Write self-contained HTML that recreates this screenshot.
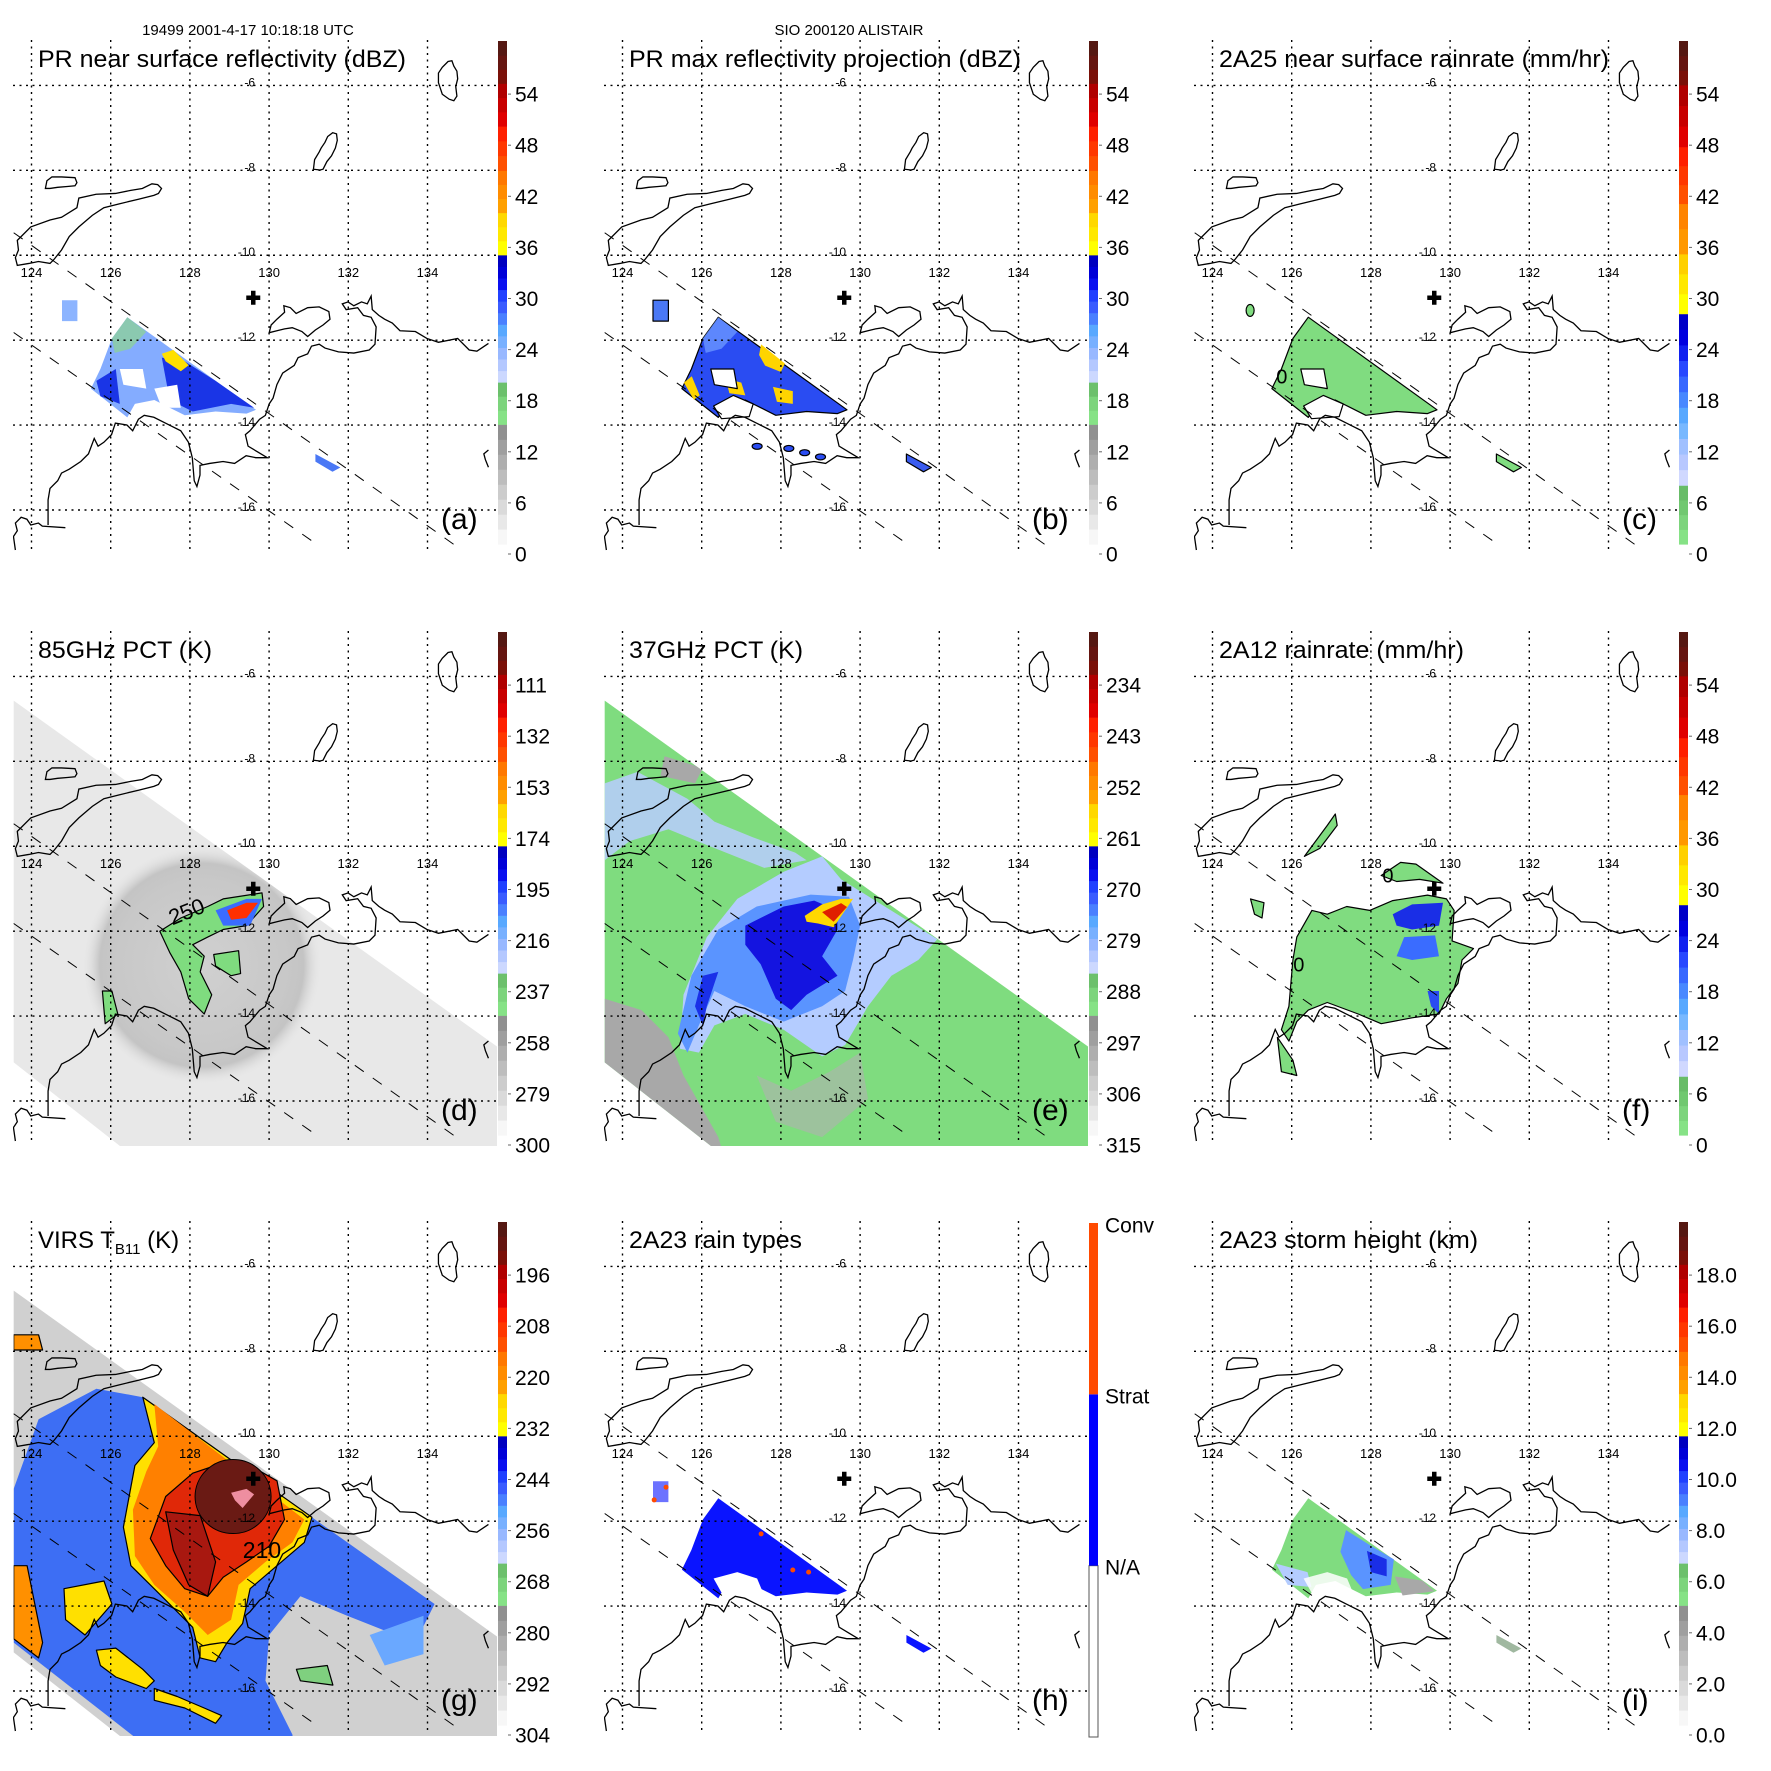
<!DOCTYPE html>
<html><head><meta charset="utf-8"><style>
html,body{margin:0;padding:0;background:#fff}
svg{display:block}
text{font-family:"Liberation Sans",Arial,sans-serif}
</style></head><body>
<svg id="fig" xmlns="http://www.w3.org/2000/svg" width="1771" height="1771" viewBox="0 0 1771 1771">
<rect x="0" y="0" width="1771" height="1771" fill="#fff"/>
<defs>
<g id="coast" fill="none" stroke="#000" stroke-width="1.3" vector-effect="non-scaling-stroke">
<path vector-effect="non-scaling-stroke" d="M1140,190 L1150,175 1165,160 1175,158 1180,172 1188,185 1190,205 1185,225 1188,250 1180,262 1168,258 1150,245 1145,230 1140,215 Z"/>
<path vector-effect="non-scaling-stroke" d="M815,440 L818,415 830,395 835,385 845,370 852,355 865,345 875,348 877,365 872,385 862,405 850,420 840,440 832,442 Z"/>
<path vector-effect="non-scaling-stroke" d="M118,490 L122,470 135,460 160,460 195,462 200,475 195,483 175,485 150,487 130,490 Z"/>
<path vector-effect="non-scaling-stroke" d="M45,625 L80,590 130,572 160,565 200,540 205,515 250,505 300,503 340,495 370,490 395,478 410,480 420,490 412,503 400,508 360,518 310,530 270,540 240,560 205,590 180,615 160,650 140,675 130,685 100,680 75,685 45,690 40,670 48,650 Z"/>
<path vector-effect="non-scaling-stroke" d="M40,1430 L35,1395 45,1380 40,1360 55,1345 70,1350 80,1365 100,1360 110,1368 170,1372"/>
<path vector-effect="non-scaling-stroke" d="M125,1365 L125,1300 130,1270 150,1250 160,1230 180,1220 210,1200 230,1180 245,1140 255,1160 270,1150 290,1130 300,1100 330,1105 345,1120 360,1090 375,1080 400,1085 430,1100 470,1120 490,1150 500,1190 505,1250 512,1265 520,1235 520,1210 545,1205 580,1200 610,1205 640,1185 665,1190 695,1190 670,1175 645,1160 638,1130 650,1120 675,1090 690,1080 700,1050 710,1035 720,1000 735,970 765,950 775,930 800,920 810,900 830,895 845,905 880,915 920,918 960,910 975,895 978,850 965,825 945,820 930,800 900,805 890,790 905,785 920,795 940,785 955,790 965,770 968,805 985,820 1000,830 1020,840 1040,860 1080,862 1110,880 1140,890 1190,880 1220,910 1240,913 1270,893"/>
<path vector-effect="non-scaling-stroke" d="M700,865 L705,845 720,830 740,812 738,795 755,800 770,815 800,800 830,798 855,810 858,830 840,845 820,858 800,875 785,862 760,852 740,855 720,860 Z"/>
<path vector-effect="non-scaling-stroke" d="M1270,1170 L1258,1180 1262,1195 1270,1215"/>
</g>
<radialGradient id="ringD" cx="0.5" cy="0.5" r="0.5">
<stop offset="0" stop-color="#d0d0d0"/><stop offset="0.7" stop-color="#c8c8c8"/><stop offset="0.85" stop-color="#c4c4c4"/><stop offset="1" stop-color="#e8e8e8" stop-opacity="0"/>
</radialGradient>
</defs>
<g id="root"></g>
</svg>
<script>
// ---------- data arrays ----------
const lonTicks = [124,126,128,130,132,134];
const latTicks = [-6,-8,-10,-12,-14,-16];
const stormCenter = [129.6,-11.0];
const swathUpper = [[123.55,-9.47],[134.86,-16.94]];
const swathLower = [[123.55,-11.82],[131.27,-16.85]];
const headerLeft = "19499 2001-4-17 10:18:18 UTC";
const headerRight = "SIO 200120 ALISTAIR";
const titles = ["PR near surface reflectivity (dBZ)","PR max reflectivity projection (dBZ)","2A25 near surface rainrate (mm/hr)","85GHz PCT (K)","37GHz PCT (K)","2A12 rainrate (mm/hr)","VIRS T","2A23 rain types","2A23 storm height (km)"];
const titleWidths = [368,392,390,174,174,245,0,173,259];
const letters = ["(a)","(b)","(c)","(d)","(e)","(f)","(g)","(h)","(i)"];
const ticksA = ["0","6","12","18","24","30","36","42","48","54"];
const ticksD = ["300","279","258","237","216","195","174","153","132","111"];
const ticksE = ["315","306","297","288","279","270","261","252","243","234"];
const ticksG = ["304","292","280","268","256","244","232","220","208","196"];
const ticksI = ["0.0","2.0","4.0","6.0","8.0","10.0","12.0","14.0","16.0","18.0"];
const ticksH = ["N/A","Strat","Conv"];

const prSwath = [[126.42,-11.46],[129.67,-13.64],[129.43,-13.73],[128.65,-13.68],[127.87,-13.77],[127.49,-13.59],[127.1,-13.41],[126.61,-13.5],[126.42,-13.82],[125.5,-13.14],[125.74,-12.68],[126.03,-11.96]];
const tmiSwath = [[123.55,-6.57],[135.76,-14.72],[135.76,-17.3],[126.56,-17.3],[123.55,-15.09]];
const aDark1 = [[127.29,-12.41],[127.87,-12.5],[128.65,-12.96],[129.62,-13.59],[129.04,-13.5],[128.07,-13.68],[127.49,-13.41]];
const aDark2 = [[125.64,-12.96],[126.13,-12.68],[126.23,-13.5],[125.74,-13.32]];
const aYellow = [[127.29,-12.32],[127.58,-12.23],[127.97,-12.59],[127.77,-12.73],[127.39,-12.5]];
const aGreen = [[126.03,-11.96],[126.42,-11.46],[126.9,-11.8],[126.5,-12.2],[126.1,-12.3]];
const aHole1 = [[126.23,-12.68],[126.81,-12.68],[126.9,-13.14],[126.32,-13.05]];
const aHole2 = [[127.1,-13.14],[127.68,-13.05],[127.77,-13.59],[127.29,-13.59]];
const bitsNW = [[124.77,-11.06],[125.16,-11.06],[125.16,-11.55],[124.77,-11.55]];
const bitsSE = [[131.17,-14.68],[131.8,-15.0],[131.6,-15.1],[131.17,-14.86]];
const bY1 = [[127.5,-12.1],[128.1,-12.55],[128.0,-12.75],[127.6,-12.6],[127.45,-12.35]];
const bY2 = [[125.55,-13.0],[125.75,-12.85],[125.95,-13.3],[125.8,-13.4]];
const bY3 = [[126.6,-12.9],[127.0,-13.0],[127.1,-13.3],[126.7,-13.25]];
const bY4 = [[127.8,-13.1],[128.3,-13.2],[128.3,-13.5],[127.9,-13.45]];
const bHole = [[126.3,-13.55],[126.8,-13.3],[127.3,-13.5],[127.2,-13.8],[126.5,-13.85]];
const bBlobs = [[127.4,-14.5],[128.2,-14.55],[128.6,-14.65],[129.0,-14.75]];
const dGreen1 = [[127.24,-12.0],[127.77,-11.69],[128.45,-11.42],[128.84,-11.24],[129.82,-11.1],[129.86,-11.42],[129.43,-11.87],[128.84,-11.96],[128.45,-12.14],[128.07,-12.32],[128.36,-12.59],[128.26,-12.96],[128.55,-13.5],[128.36,-13.95],[127.97,-13.59],[127.77,-12.96],[127.49,-12.5]];
const dGreen2 = [[128.6,-12.55],[129.23,-12.46],[129.28,-13.0],[129.04,-13.05],[128.65,-12.82]];
const dGreen3 = [[125.79,-13.41],[126.03,-13.41],[126.18,-13.95],[125.86,-14.18]];
const dBlue = [[128.65,-11.51],[129.43,-11.24],[129.82,-11.24],[129.52,-11.87],[128.84,-11.87]];
const dRed = [[128.94,-11.51],[129.43,-11.33],[129.72,-11.33],[129.43,-11.69],[129.04,-11.73]];
const dRingCenter = [128.3,-12.8];
const eLight = [[125.45,-14.77],[125.54,-13.5],[126.13,-12.14],[126.9,-11.24],[128.07,-10.6],[129.04,-10.24],[129.52,-10.78],[131.95,-12.19],[131.47,-12.68],[130.79,-13.05],[130.2,-13.77],[129.62,-14.68],[129.04,-14.95],[128.07,-14.32],[127.1,-13.95],[126.32,-14.22],[125.93,-14.86]];
const eLight2 = [[123.55,-8.52],[124.38,-8.25],[125.64,-8.88],[126.32,-9.42],[127.29,-9.79],[128.36,-10.15],[128.65,-10.33],[127.58,-10.51],[126.13,-9.97],[125.16,-9.6],[124.18,-9.88],[123.55,-10.33]];
const eMid = [[126.42,-11.96],[127.39,-11.42],[128.75,-11.14],[129.72,-11.19],[130.0,-11.87],[129.82,-12.68],[129.62,-13.41],[129.04,-13.77],[128.07,-14.13],[127.1,-13.77],[126.32,-13.41],[125.93,-14.22],[125.64,-14.86],[125.4,-14.41],[125.74,-13.05]];
const eDark = [[127.1,-11.87],[128.07,-11.42],[128.84,-11.28],[129.43,-11.51],[129.43,-11.96],[129.04,-12.59],[129.43,-13.05],[128.65,-13.5],[128.26,-13.86],[127.87,-13.59],[127.49,-12.78],[127.1,-12.32]];
const eDark2 = [[125.83,-13.77],[126.03,-13.05],[126.42,-12.96],[126.13,-13.77],[126.03,-14.22]];
const eYellow = [[128.6,-11.64],[129.04,-11.37],[129.52,-11.24],[129.82,-11.24],[129.62,-11.51],[129.33,-11.91],[128.94,-11.82],[128.65,-11.78]];
const eRed = [[129.04,-11.55],[129.52,-11.34],[129.67,-11.43],[129.33,-11.78]];
const eGrey1 = [[123.55,-13.59],[124.48,-13.86],[125.16,-14.5],[125.54,-15.4],[126.42,-16.85],[126.56,-17.3],[123.55,-17.3]];
const eGrey2 = [[127.39,-15.4],[128.26,-15.76],[129.23,-15.31],[130.0,-14.86],[130.2,-15.95],[129.04,-16.85],[127.87,-16.49]];
const eGrey3 = [[125.06,-7.88],[126.03,-8.16],[125.83,-8.52],[124.96,-8.34]];
const fMain = [[126.13,-12.14],[126.51,-11.51],[126.9,-11.6],[127.39,-11.42],[127.97,-11.51],[128.55,-11.28],[129.43,-11.15],[129.91,-11.24],[130.1,-11.51],[130.05,-12.23],[130.59,-12.41],[130.3,-12.68],[130.2,-13.23],[129.91,-13.59],[129.72,-13.95],[129.04,-14.04],[128.26,-14.18],[127.68,-13.95],[126.9,-13.68],[126.42,-13.86],[126.13,-14.13],[125.93,-14.59],[125.74,-14.32],[125.93,-13.77],[126.03,-12.68]];
const fNorth = [[128.26,-10.69],[128.75,-10.38],[129.14,-10.42],[129.82,-10.87],[129.23,-10.78],[128.65,-10.83]];
const fTimor = [[126.32,-10.24],[126.9,-9.51],[127.1,-9.24],[127.15,-9.51],[126.71,-10.05]];
const fSW = [[125.64,-14.5],[126.03,-15.04],[126.13,-15.4],[125.74,-15.31]];
const fW = [[124.96,-11.24],[125.3,-11.33],[125.25,-11.69],[125.06,-11.6]];
const fBlue1 = [[128.55,-11.6],[129.04,-11.37],[129.82,-11.33],[129.72,-11.87],[129.04,-11.96],[128.65,-11.87]];
const fBlue2 = [[128.84,-12.14],[129.62,-12.1],[129.72,-12.59],[129.04,-12.68],[128.65,-12.59]];
const fBlue3 = [[129.43,-13.41],[129.72,-13.41],[129.72,-13.95],[129.52,-13.77]];
const gBlue = [[123.55,-11.24],[124.18,-9.6],[125.64,-8.88],[126.81,-9.08],[131.08,-11.91],[134.18,-13.95],[133.69,-14.86],[131.95,-14.22],[130.79,-13.77],[130.0,-14.68],[129.91,-15.76],[130.59,-17.03],[130.59,-17.3],[126.9,-17.3],[123.55,-14.86]];
const gLightBlue = [[132.54,-14.68],[133.9,-14.23],[133.9,-15.13],[132.92,-15.4]];
const gYellow = [[126.81,-9.08],[131.08,-11.91],[130.89,-12.5],[130.2,-13.05],[129.52,-13.59],[129.33,-14.41],[128.94,-14.86],[128.65,-15.31],[128.26,-15.22],[128.07,-14.5],[127.29,-13.77],[126.51,-13.05],[126.32,-12.14],[126.61,-10.69],[127.1,-10.15]];
const gOrange = [[127.1,-9.24],[130.89,-11.96],[130.59,-12.5],[129.91,-12.96],[129.23,-13.5],[129.04,-14.32],[128.45,-14.68],[127.87,-14.14],[127.1,-13.5],[126.61,-12.82],[126.56,-11.73],[126.9,-10.83],[127.2,-10.24]];
const gRed = [[127.39,-11.42],[128.07,-10.87],[128.65,-10.69],[129.52,-10.69],[130.2,-11.05],[130.39,-11.96],[130.0,-12.59],[129.43,-12.96],[128.84,-13.32],[128.45,-13.77],[127.87,-13.59],[127.39,-13.05],[127.0,-12.41]];
const gDarkRed = [[127.39,-11.78],[128.26,-11.87],[128.65,-12.96],[128.45,-13.77],[127.97,-13.5],[127.58,-12.68]];
const gCore = [129.09,-11.42];
const gPink = [[129.04,-11.33],[129.43,-11.24],[129.62,-11.37],[129.33,-11.69],[129.14,-11.51]];
const gY2 = [[124.82,-13.59],[125.83,-13.41],[126.03,-13.95],[125.35,-14.68],[124.86,-14.32]];
const gY3 = [[125.64,-15.04],[126.13,-14.99],[126.81,-15.49],[127.1,-15.76],[126.9,-15.94],[126.13,-15.67],[125.74,-15.4]];
const gY4 = [[127.1,-15.94],[127.68,-16.13],[128.36,-16.4],[128.8,-16.58],[128.65,-16.76],[127.87,-16.4],[127.1,-16.22]];
const gOr2 = [[123.55,-13.05],[123.89,-13.05],[124.28,-14.86],[124.18,-15.22],[123.55,-14.77]];
const gOr3 = [[123.55,-7.61],[124.18,-7.61],[124.28,-7.97],[123.55,-7.97]];
const gGreen = [[130.69,-15.49],[131.47,-15.4],[131.61,-15.86],[130.79,-15.76]];
const hHole = [[126.3,-13.35],[126.9,-13.2],[127.4,-13.35],[127.6,-13.8],[126.6,-13.85]];
const hConv = [[128.7,-13.2],[127.5,-12.3],[128.3,-13.15],[125.1,-11.2],[124.8,-11.5]];
const iGrey = [[128.6,-13.3],[129.3,-13.4],[129.6,-13.65],[128.8,-13.75]];
const iLight = [[125.6,-13.0],[126.4,-13.2],[126.5,-13.55],[125.9,-13.5]];
const iBlue = [[127.37,-12.21],[128.0,-12.58],[128.58,-12.9],[128.5,-13.5],[127.8,-13.6],[127.5,-13.27],[127.23,-12.72]];
const iDark = [[127.9,-12.7],[128.4,-12.9],[128.4,-13.3],[128.0,-13.2]];

const NS = "http://www.w3.org/2000/svg";
const root = document.getElementById('root');
function mk(tag, attrs, parent){const e=document.createElementNS(NS,tag);for(const k in attrs)e.setAttribute(k,attrs[k]);(parent||root).appendChild(e);return e;}
const colO=[0,591,1181], rowO=[0,591,1181];
const panels=[];
for(let i=0;i<9;i++) panels.push({ox:colO[i%3], oy:rowO[Math.floor(i/3)], i:i});
function X(p,lon){return p.ox+31.5+(lon-124)*39.6;}
function Y(p,lat){return p.oy+85.4+(-6-lat)*42.46;}
function pts(p,arr){return arr.map(v=>X(p,v[0]).toFixed(1)+','+Y(p,v[1]).toFixed(1)).join(' ');}
function poly(p,g,arr,fill,stroke,name,op){
  const e=mk('polygon',{points:pts(p,arr),fill:fill,stroke:stroke||'none','stroke-width':1.2,'stroke-linejoin':'round','fill-opacity':op||1},g);
  
  
  return e;
}
function blob(p,g,c,rx,ry,fill,stroke,name){
  const e=mk('ellipse',{cx:X(p,c[0]),cy:Y(p,c[1]),rx:rx,ry:ry,fill:fill,stroke:stroke||'none','stroke-width':1.2},g);
  
  
  return e;
}
const STD=[[0,0.238,['#f7f7f7','#e8e8e8','#dadada','#cccccc','#bdbdbd','#aeaeae','#9f9f9f','#909090']],[0.238,0.322,['#86e286','#7cd47c','#6cc06c']],[0.322,0.575,['#ccd8ff','#b4c8ff','#98b8ff','#78b0ff','#58a8ff','#4a80ff','#3a5cff','#2040ff','#0a10f0','#0000d8','#0000c0']],[0.575,0.659,['#ffff00','#ffe800','#ffd800']],[0.659,0.743,['#ffa000','#ff8c00','#ff7800']],[0.743,0.831,['#ff5000','#ff3800','#ff2000']],[0.831,0.916,['#e00000','#c80000','#b00000']],[0.916,1,['#7a1008','#651510','#551812']]];
const RAIN=[[0,0.117,['#86e286','#7cd47c','#70c870','#68bc68']],[0.117,0.458,['#d0d8ff','#b8c8ff','#a0c0ff','#78b8ff','#58a8ff','#4888ff','#3868ff','#2848ff','#1020f0','#0000e0','#0000c8']],[0.458,0.577,['#ffff00','#ffe800','#ffd000']],[0.577,0.677,['#ff9800','#ff8400']],[0.677,0.79,['#ff5000','#ff3800','#ff2000']],[0.79,0.913,['#e00000','#c80000','#b00000']],[0.913,1,['#7a1008','#651510','#551812']]];

function colorbar(p,g,pal,labels){
  const x=p.ox+498,w=9,top=p.oy+41,bot=p.oy+544,H=bot-top;
  pal.forEach(s=>{const n=s[2].length;for(let k=0;k<n;k++){
    const f0=s[0]+(s[1]-s[0])*k/n,f1=s[0]+(s[1]-s[0])*(k+1)/n;
    const r=mk('rect',{x:x,y:(bot-f1*H).toFixed(2),width:w,height:((f1-f0)*H+0.6).toFixed(2),fill:s[2][k]},g);
    
    
  }});
  labels.forEach((t,k)=>{
    const cy=p.oy+554-k*51.1;
    const tk=mk('line',{x1:x+w+1,x2:x+w+4,y1:cy,y2:cy,stroke:'#666','stroke-width':1},g);
    
    
    const tx=mk('text',{x:p.ox+515,y:cy+7.5,'font-size':21,fill:'#000'},g);
    tx.textContent=t;
    
    
  });
}
function colorbarH(p,g){
  const x=p.ox+498,w=9,top=p.oy+42,bot=p.oy+556,H=bot-top;
  const segs=[[0,1/3,'#ffffff'],[1/3,2/3,'#0000ff'],[2/3,1,'#ff4a00']];
  segs.forEach(s=>{const r=mk('rect',{x:x,y:bot-s[1]*H,width:w,height:(s[1]-s[0])*H,fill:s[2],stroke:s[2]=='#ffffff'?'#555':'none','stroke-width':1},g);
    
    });
  const ys=[386,215,44];
  ticksH.forEach((t,k)=>{const tx=mk('text',{x:p.ox+514,y:p.oy+ys[k]+7.5,'font-size':21,fill:'#000'},g);
    tx.textContent=t;
    
    });
}

let hl=mk('text',{x:248,y:35,'font-size':15,'text-anchor':'middle'});
hl.textContent=headerLeft;


let hr=mk('text',{x:849,y:35,'font-size':15,'text-anchor':'middle'});
hr.textContent=headerRight;



const panelNames=['panel-a-pr-reflectivity','panel-b-pr-max-reflectivity','panel-c-2a25-rainrate','panel-d-85ghz-pct','panel-e-37ghz-pct','panel-f-2a12-rainrate','panel-g-virs-tb11','panel-h-2a23-rain-types','panel-i-2a23-storm-height'];

panels.forEach(p=>{
  const g=mk('g',{});
  
  
  const cp=mk('clipPath',{id:'clip'+p.i},g);
  mk('rect',{x:p.ox+13,y:p.oy+40,width:484,height:515},cp);
  const cs=mk('clipPath',{id:'sw'+p.i},g);
  mk('polygon',{points:pts(p,tmiSwath)},cs);
  const data=mk('g',{'clip-path':'url(#clip'+p.i+')'},g);
  
  
  const i=p.i;
  if(i===0){
    poly(p,data,prSwath,'#84acff',null,'pr-swath-echo');
    poly(p,data,aGreen,'#8ed68e',null,'weak-echo',0.7);
    poly(p,data,aDark1,'#1a35e6',null,'moderate-echo');
    poly(p,data,aDark2,'#1a35e6',null,'moderate-echo');
    poly(p,data,aYellow,'#ffe000',null,'strong-echo');
    poly(p,data,aHole1,'#ffffff',null,'no-echo');
    poly(p,data,aHole2,'#ffffff',null,'no-echo');
    poly(p,data,bitsNW,'#8cb4ff',null,'echo-patch');
    poly(p,data,bitsSE,'#4a78f5',null,'echo-patch');
  } else if(i===1){
    poly(p,data,prSwath,'#2a4cf2','#000','pr-swath-echo');
    poly(p,data,aGreen,'#6a96ff',null,'echo-patch',0.8);
    [bY1,bY2,bY3,bY4].forEach(a=>poly(p,data,a,'#ffd400',null,'strong-echo'));
    poly(p,data,bHole,'#ffffff','#000','no-echo');
    poly(p,data,aHole1,'#ffffff','#000','no-echo');
    poly(p,data,bitsNW,'#4a78f5','#000','echo-patch');
    poly(p,data,bitsSE,'#3a5cf0','#000','echo-patch');
    bBlobs.forEach(c=>blob(p,data,c,5,3,'#2a4cf2','#000','echo-patch'));
  } else if(i===2){
    poly(p,data,prSwath,'#80dc80','#000','pr-swath-rain');
    poly(p,data,bHole,'#ffffff','#000','no-rain');
    poly(p,data,aHole1,'#ffffff','#000','no-rain');
    poly(p,data,bitsSE,'#80dc80','#000','rain-patch');
    blob(p,data,[124.95,-11.3],4,6,'#80dc80','#000','rain-patch');
  } else if(i===3){
    poly(p,data,tmiSwath,'#e8e8e8',null,'tmi-swath');
    const c=mk('ellipse',{cx:X(p,dRingCenter[0]),cy:Y(p,dRingCenter[1]),rx:120,ry:120,fill:'url(#ringD)','clip-path':'url(#sw'+p.i+')'},data);
    
    
    poly(p,data,dGreen1,'#7fdc7f','#000','pct-green-region');
    poly(p,data,dGreen2,'#7fdc7f','#000','pct-green-region');
    poly(p,data,dGreen3,'#7fdc7f','#000','pct-green-region');
    poly(p,data,dBlue,'#3a6cff',null,'pct-blue-region');
    poly(p,data,dRed,'#ff3000',null,'pct-red-region');
  } else if(i===4){
    poly(p,data,tmiSwath,'#7fdc7f',null,'tmi-swath');
    const sg=mk('g',{'clip-path':'url(#sw'+p.i+')'},data);
    
    
    poly(p,sg,eGrey1,'#a8a8a8',null,'warm-region');
    poly(p,sg,eGrey2,'#b0b0b0',null,'warm-region',0.6);
    poly(p,sg,eGrey3,'#a8a8a8',null,'warm-region');
    poly(p,sg,eLight2,'#b8ccff',null,'pct-light-band',0.85);
    poly(p,sg,eLight,'#b4ccff',null,'pct-light-region');
    poly(p,sg,eMid,'#5a94ff',null,'pct-mid-region');
    poly(p,sg,eDark,'#1414e0',null,'pct-cold-region');
    poly(p,sg,eDark2,'#1a30e8',null,'pct-cold-region');
    poly(p,sg,eYellow,'#ffd800',null,'pct-yellow-region');
    poly(p,sg,eRed,'#e02000',null,'pct-red-region');
  } else if(i===5){
    poly(p,data,fMain,'#80dc80','#000','rain-region');
    poly(p,data,fNorth,'#80dc80','#000','rain-region');
    poly(p,data,fTimor,'#80dc80','#000','rain-region');
    poly(p,data,fSW,'#80dc80','#000','rain-region');
    poly(p,data,fW,'#80dc80','#000','rain-region');
    poly(p,data,fBlue1,'#1a2ee6',null,'heavy-rain');
    poly(p,data,fBlue2,'#3a6cff',null,'heavy-rain');
    poly(p,data,fBlue3,'#2a4cf2',null,'heavy-rain');
  } else if(i===6){
    poly(p,data,tmiSwath,'#d0d0d0',null,'virs-swath');
    const sg=mk('g',{'clip-path':'url(#sw'+p.i+')'},data);
    
    
    poly(p,sg,gBlue,'#3d6ef4',null,'tb-blue-region');
    poly(p,sg,gLightBlue,'#6aa8ff',null,'tb-blue-region');
    poly(p,sg,gGreen,'#7fd07f','#000','tb-green-region');
    poly(p,sg,gOr2,'#ff9000','#000','tb-orange-region');
    poly(p,sg,gOr3,'#ff9000','#000','tb-orange-region');
    poly(p,sg,gYellow,'#ffe000','#000','tb-yellow-region');
    poly(p,sg,gOrange,'#ff8000',null,'tb-orange-region');
    poly(p,sg,gRed,'#e02808','#000','tb-red-region');
    poly(p,sg,gDarkRed,'#a81810','#000','tb-darkred-region');
    const core=mk('ellipse',{cx:X(p,gCore[0]),cy:Y(p,gCore[1]),rx:38,ry:37,fill:'#6a1a14',stroke:'#000','stroke-width':1},sg);
    
    
    poly(p,sg,gPink,'#ee8ea0',null,'coldest-pixels');
    poly(p,sg,gY2,'#ffe000','#000','tb-yellow-region');
    poly(p,sg,gY3,'#ffe000','#000','tb-yellow-region');
    poly(p,sg,gY4,'#ffe000','#000','tb-yellow-region');
  } else if(i===7){
    poly(p,data,prSwath,'#0a14ff',null,'stratiform-rain');
    poly(p,data,hHole,'#ffffff',null,'no-rain');
    poly(p,data,bitsSE,'#0a14ff',null,'stratiform-rain');
    poly(p,data,bitsNW,'#0a14ff',null,'stratiform-rain',0.6);
    hConv.forEach(c=>blob(p,data,c,2.5,2.5,'#ff4a00',null,'convective-pixel'));
  } else if(i===8){
    poly(p,data,prSwath,'#80dc80',null,'storm-height');
    poly(p,data,iGrey,'#a8a8a8',null,'low-height');
    poly(p,data,iLight,'#b4ccff',null,'mid-height');
    poly(p,data,iBlue,'#5a94ff',null,'high-height');
    poly(p,data,iDark,'#1a2ee6',null,'highest-height');
    poly(p,data,hHole,'#ffffff',null,'no-rain',0.85);
    poly(p,data,bitsSE,'#a0b8a0',null,'storm-height');
  }
  const cg=mk('g',{'clip-path':'url(#clip'+p.i+')'},g);
  const u=mk('use',{href:'#coast',transform:'translate('+p.ox+','+p.oy+') scale(0.3846)'},cg);
  
  
  lonTicks.forEach(l=>{
    const ln=mk('line',{x1:X(p,l),x2:X(p,l),y1:p.oy+40,y2:p.oy+553,stroke:'#000','stroke-width':1.4,'stroke-dasharray':'2,4.5'},g);
    
    
    const t=mk('text',{x:X(p,l),y:Y(p,-10)+22,'font-size':13,'text-anchor':'middle'},g);
    t.textContent=String(l);
    
    
  });
  latTicks.forEach(l=>{
    const ln=mk('line',{x1:p.ox+13,x2:p.ox+497,y1:Y(p,l),y2:Y(p,l),stroke:'#000','stroke-width':1.4,'stroke-dasharray':'2,4.5'},g);
    
    
    const t=mk('text',{x:X(p,130)-14,y:Y(p,l)+1,'font-size':12,'text-anchor':'end'},g);
    t.textContent=String(l);
    
    
  });
  const dg=mk('g',{'clip-path':'url(#clip'+p.i+')'},g);
  [swathUpper,swathLower].forEach(s=>{
    const ln=mk('line',{x1:X(p,s[0][0]),y1:Y(p,s[0][1]),x2:X(p,s[1][0]),y2:Y(p,s[1][1]),stroke:'#000','stroke-width':1,'stroke-dasharray':'11,11'},dg);
    
    
  });
  if(i===3){const t=mk('text',{x:X(p,127.92),y:Y(p,-11.55)+7,'font-size':22,'text-anchor':'middle',transform:'rotate(-22 '+X(p,127.92)+' '+Y(p,-11.55)+')'},g);
    t.textContent='250';
    
    }
  if(i===6){const t=mk('text',{x:X(p,129.82),y:Y(p,-12.68)+8,'font-size':23,'text-anchor':'middle'},g);
    t.textContent='210';
    
    }
  if(i===5){[[128.43,-10.69],[126.18,-12.78]].forEach(c=>{const t=mk('text',{x:X(p,c[0]),y:Y(p,c[1])+7,'font-size':20,'text-anchor':'middle'},g);
    t.textContent='0';
    
    });}
  if(i===2){const t=mk('text',{x:X(p,125.75),y:Y(p,-12.85)+7,'font-size':20,'text-anchor':'middle'},g);
    t.textContent='0';
    
    }
  const cx=X(p,stormCenter[0]),cy=Y(p,stormCenter[1]);
  const pl=mk('path',{d:'M'+(cx-7)+','+cy+'H'+(cx+7)+'M'+cx+','+(cy-7)+'V'+(cy+7),stroke:'#000','stroke-width':4.5,fill:'none'},g);
  
  
  const tt=mk('text',{x:p.ox+38,y:p.oy+67,'font-size':24},g);
  if(i===6){
    tt.textContent=titles[i];
    const sub=mk('tspan',{'font-size':15,dy:6},tt); sub.textContent='B11';
    const rest=mk('tspan',{dy:-6},tt); rest.textContent=' (K)';
  } else {
    tt.textContent=titles[i];
    tt.setAttribute('textLength',titleWidths[i]);
    tt.setAttribute('lengthAdjust','spacingAndGlyphs');
  }
  
  
  const lt=mk('text',{x:p.ox+441,y:p.oy+529,'font-size':30},g);
  lt.textContent=letters[i];
  
  
  const cb=mk('g',{},g);
  
  
  if(i===0||i===1) colorbar(p,cb,STD,ticksA);
  else if(i===2||i===5) colorbar(p,cb,RAIN,ticksA);
  else if(i===3) colorbar(p,cb,STD,ticksD);
  else if(i===4) colorbar(p,cb,STD,ticksE);
  else if(i===6) colorbar(p,cb,STD,ticksG);
  else if(i===7) colorbarH(p,cb);
  else colorbar(p,cb,STD,ticksI);
});
</script>
</body></html>
